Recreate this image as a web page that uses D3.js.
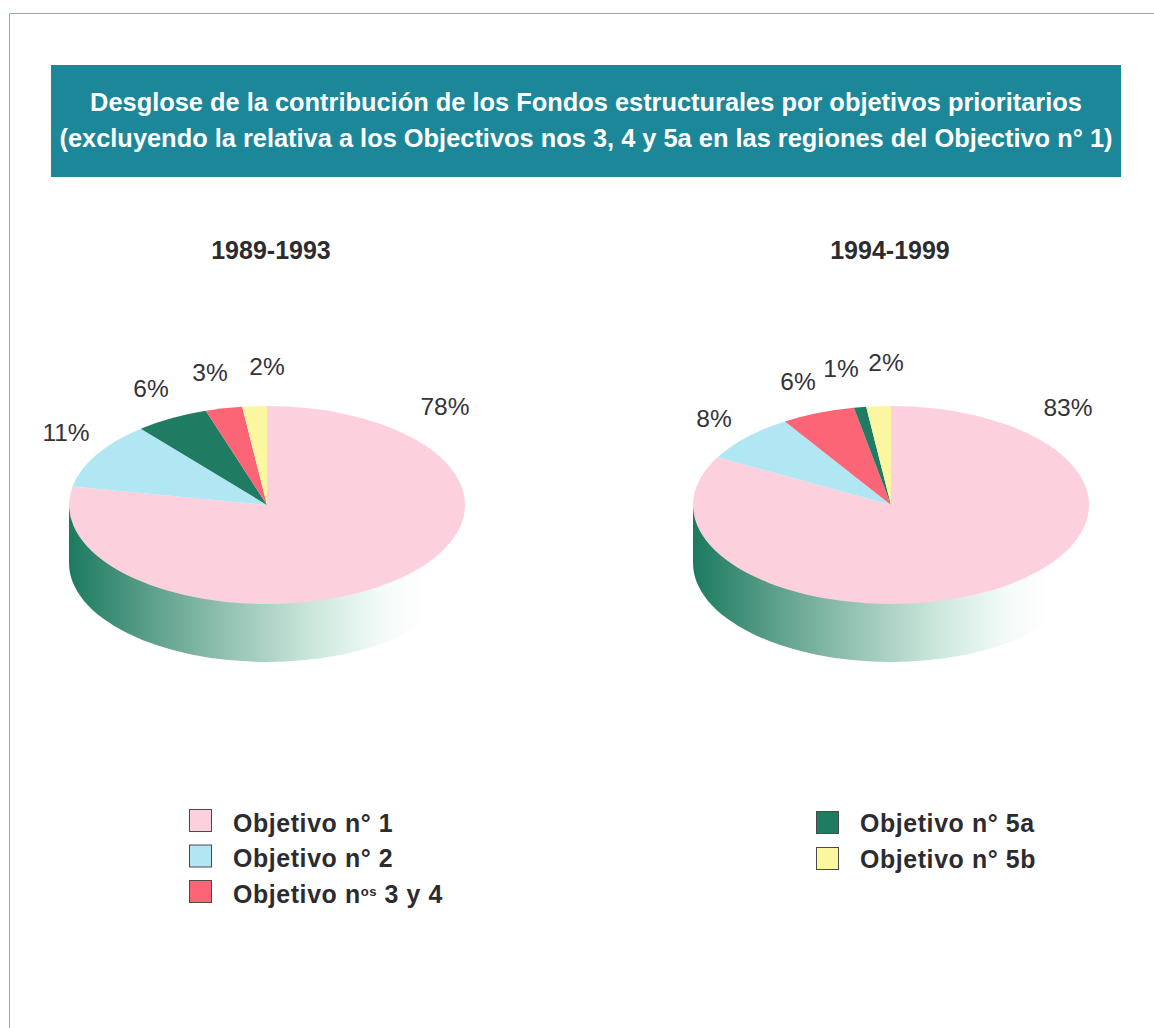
<!DOCTYPE html>
<html lang="es">
<head>
<meta charset="utf-8">
<title>Fondos estructurales</title>
<script src="https://cdn.jsdelivr.net/npm/d3@7"></script>
<style>
  html, body { margin: 0; padding: 0; background: #fff; }
  svg { display: block; }
  text { font-family: "Liberation Sans", Arial, sans-serif; }
</style>
</head>
<body>
<div id="chart"></div>
<script>
const titleLines = [
  'Desglose de la contribución de los Fondos estructurales por objetivos prioritarios',
  '(excluyendo la relativa a los Objectivos nos 3, 4 y 5a en las regiones del Objectivo n° 1)'
];
const periods = ['1989-1993', '1994-1999'];

const keysLeft = ['o1', 'o2', 'o5a', 'o34', 'o5b'];
const valuesLeft = [78, 11, 6, 3, 2];
const keysRight = ['o1', 'o2', 'o34', 'o5a', 'o5b'];
const valuesRight = [83, 8, 6, 1, 2];

const legendKeys = ['o1', 'o2', 'o34', 'o5a', 'o5b'];
const legendLabels = ['Objetivo n° 1', 'Objetivo n° 2', 'Objetivo n', 'Objetivo n° 5a', 'Objetivo n° 5b'];
const sliceColors = ['#fdd0de', '#b1e7f3', '#fb6576', '#1f7c63', '#fbf7a0'];

// hand placed, the labels in the original do not follow a rule
const labelPosLeft = [[445, 415], [66, 441], [151, 397], [210, 381], [267, 375]];
const labelPosRight = [[1068, 416], [714, 427], [798, 390], [841, 377], [886, 371]];

const width = 1154, height = 1028;
const rx = 198, ry = 99, depth = 58, cy = 505;

const color = d3.scaleOrdinal().domain(legendKeys).range(sliceColors);

const svg = d3.select('#chart')
  .append('svg')
    .attr('width', width)
    .attr('height', height);

// page frame
svg.append('path')
    .attr('d', `M9.5,${height}V13.5H${width}`)
    .attr('fill', 'none')
    .attr('stroke', '#7fb2c6')
    .attr('stroke-width', 1);

// title band
svg.append('rect')
    .attr('x', 51)
    .attr('y', 65)
    .attr('width', 1070)
    .attr('height', 112)
    .attr('fill', '#1c8799');

svg.append('g')
    .selectAll('text')
    .data(titleLines)
  .join('text')
    .attr('x', 586)
    .attr('y', (_, i) => 111 + i * 36)
    .attr('text-anchor', 'middle')
    .attr('font-size', '25.4px')
    .attr('font-weight', 'bold')
    .attr('fill', '#fff')
    .text(d => d);

// wall shading, dark on the left and fading out on the right
const defs = svg.append('defs');
const stops = [[0, '#1b7a60'], [0.18, '#4f9781'], [0.45, '#95c3b3'], [0.7, '#cfe9df'], [0.88, '#f3fbf8'], [1, '#ffffff']];

function drawPie(id, cx, period, periodX, keys, values, labelPos) {
  const g = svg.append('g').attr('transform', `translate(${cx},${cy})`);

  const grad = defs.append('linearGradient')
      .attr('id', id)
      .attr('gradientUnits', 'userSpaceOnUse')
      .attr('x1', -rx)
      .attr('x2', rx - 40)
      .attr('y1', 0)
      .attr('y2', 0);
  grad.selectAll('stop')
      .data(stops)
    .join('stop')
      .attr('offset', d => d[0])
      .attr('stop-color', d => d[1]);

  g.append('path')
      .attr('d', `M${-rx},0V${depth}A${rx},${ry} 0 0 0 ${rx},${depth}V0Z`)
      .attr('fill', `url(#${id})`);

  const pie = d3.pie().sort(null);
  const arc = d3.arc().innerRadius(0).outerRadius(rx);

  g.append('g')
      .attr('transform', `scale(1,${ry / rx})`)
    .selectAll('path')
      .data(pie(values))
    .join('path')
      .attr('d', arc)
      .attr('fill', (_, i) => color(keys[i]));

  svg.append('text')
      .attr('x', periodX)
      .attr('y', 259)
      .attr('text-anchor', 'middle')
      .attr('font-size', '25px')
      .attr('font-weight', 'bold')
      .attr('fill', '#2c2c2e')
      .text(period);

  svg.append('g')
    .selectAll('text')
      .data(values)
    .join('text')
      .attr('x', (_, i) => labelPos[i][0])
      .attr('y', (_, i) => labelPos[i][1])
      .attr('text-anchor', 'middle')
      .attr('font-size', '24.5px')
      .attr('fill', '#333338')
      .text(d => `${d}%`);
}

drawPie('wallLeft', 267, periods[0], 271, keysLeft, valuesLeft, labelPosLeft);
drawPie('wallRight', 891, periods[1], 890, keysRight, valuesRight, labelPosRight);

// legend, two columns, the right one sits a little lower in the original
const legendX = i => (i < 3 ? 189 : 816);
const legendRowsLeft = d3.scalePoint().domain([0, 1, 2]).range([809, 880]);
const legendRowsRight = d3.scalePoint().domain([3, 4]).range([811, 847]);
const legendY = i => (i < 3 ? legendRowsLeft(i) : legendRowsRight(i));

const item = svg.append('g')
  .selectAll('g')
    .data(legendKeys)
  .join('g')
    .attr('transform', (_, i) => `translate(${legendX(i)},${legendY(i)})`);

item.append('rect')
    .attr('x', 0.5)
    .attr('y', 0.5)
    .attr('width', 22)
    .attr('height', 22)
    .attr('fill', d => color(d))
    .attr('stroke', '#4a4a4a')
    .attr('stroke-width', 1);

const itemText = item.append('text')
    .attr('x', 44)
    .attr('y', (_, i) => (i < 3 ? 22.5 : 20.5))
    .attr('font-size', '24.9px')
    .attr('font-weight', 'bold')
    .attr('letter-spacing', '0.6px')
    .attr('fill', '#2c2c30')
    .text((_, i) => legendLabels[i]);

// the third entry has a raised "os"
itemText.filter(d => d === 'o34')
  .append('tspan')
    .attr('dy', -7)
    .attr('font-size', '13px')
    .text('os');
itemText.filter(d => d === 'o34')
  .append('tspan')
    .attr('dy', 7)
    .text(' 3 y 4');
</script>
</body>
</html>
